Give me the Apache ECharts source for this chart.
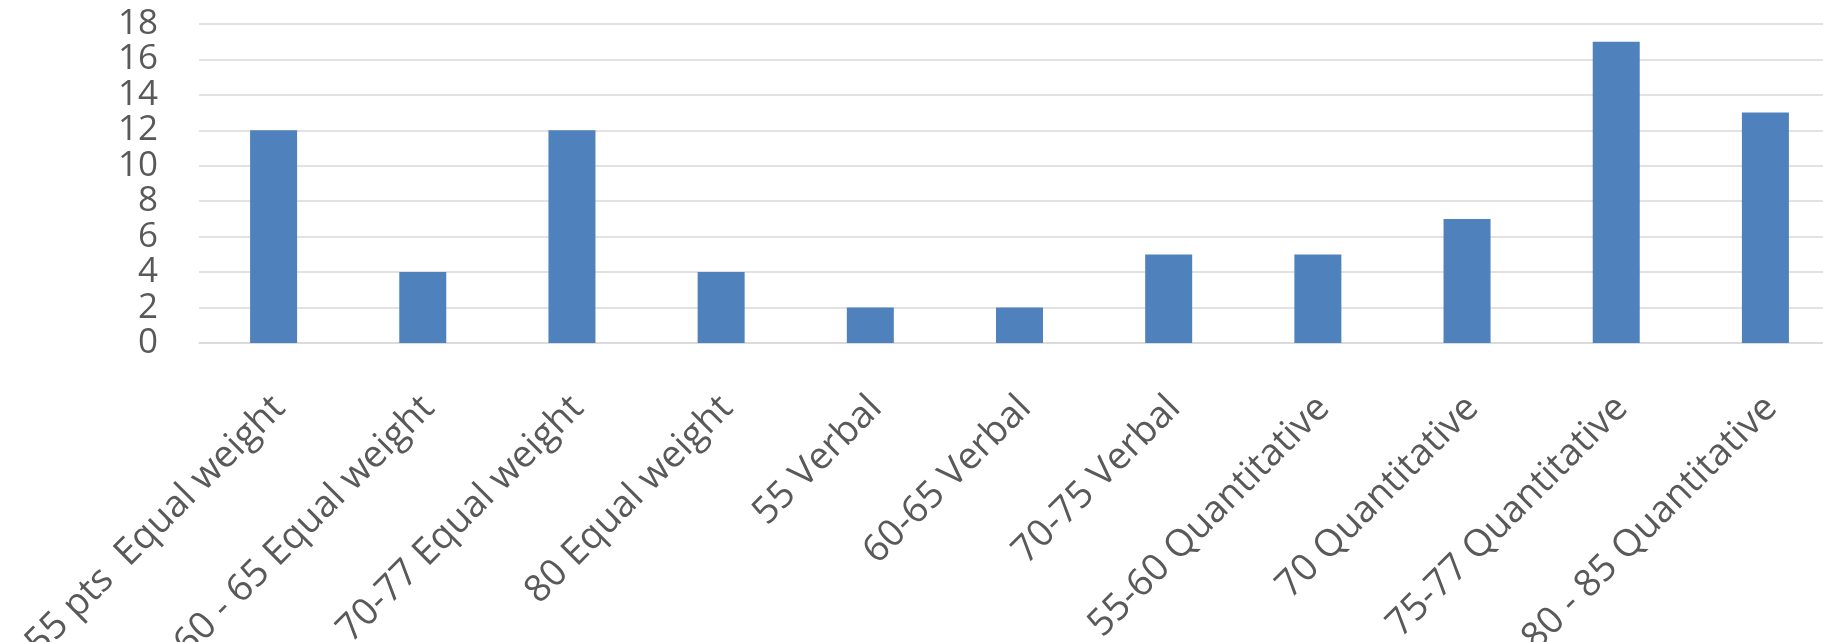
<!DOCTYPE html>
<html>
<head>
<meta charset="utf-8">
<script src="https://cdn.jsdelivr.net/npm/echarts@6/dist/echarts.min.js"></script>
<style>
html,body{margin:0;padding:0;background:#fff;}
#chart{width:1823px;height:642px;}
</style>
</head>
<body>
<div id="chart"></div>
<script>
const categories = [
  "55 pts  Equal weight",
  "60 - 65 Equal weight",
  "70-77 Equal weight",
  "80 Equal weight",
  "55 Verbal",
  "60-65 Verbal",
  "70-75 Verbal",
  "55-60 Quantitative",
  "70 Quantitative",
  "75-77 Quantitative",
  "80 - 85 Quantitative"
];
const values = [12, 4, 12, 4, 2, 2, 5, 5, 7, 17, 13];
const yTicks = { min: 0, max: 18, interval: 2 };

const chart = echarts.init(document.getElementById('chart'));
chart.setOption({
  animation: false,
  backgroundColor: '#ffffff',
  grid: {
    left: 199, right: -17, top: 24, bottom: 299,
    containLabel: false,
    outerBoundsMode: 'none'
  },
  xAxis: {
    type: 'category',
    data: categories,
    axisLine: { show: true, lineStyle: { color: '#d9d9d9', width: 1.5 } },
    axisTick: { show: false },
    axisLabel: {
      interval: 0,
      rotate: 45,
      margin: 38,
      verticalAlign: 'top',
      padding: [0, 11, 0, 0],
      hideOverlap: false,
      color: '#595959',
      fontFamily: 'Open Sans',
      fontSize: 37.5
    }
  },
  yAxis: {
    type: 'value',
    min: yTicks.min, max: yTicks.max, interval: yTicks.interval,
    axisLine: { show: false },
    axisTick: { show: false },
    splitLine: { lineStyle: { color: '#d9d9d9', width: 1.5 } },
    axisLabel: {
      margin: 41,
      color: '#595959',
      fontFamily: 'Open Sans',
      fontSize: 35
    }
  },
  series: [{
    type: 'bar',
    data: values,
    barWidth: 47,
    itemStyle: { color: '#4f81bd' }
  }]
});
</script>
</body>
</html>
